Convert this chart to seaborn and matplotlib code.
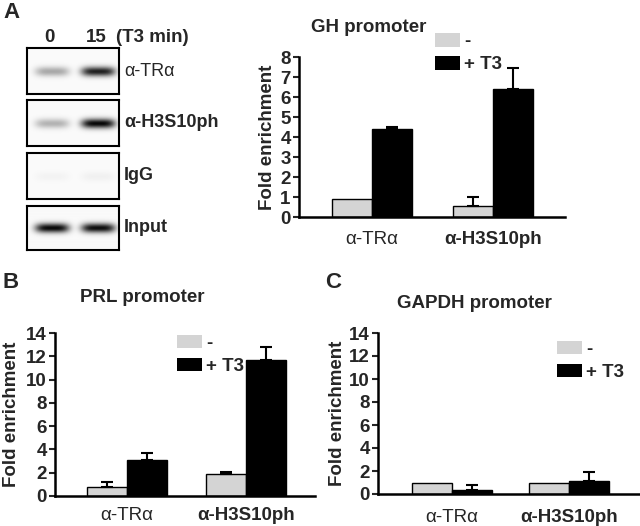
import numpy as np
import pandas as pd
import matplotlib
matplotlib.use("Agg")
import matplotlib.pyplot as plt
import seaborn as sns

sns.set_theme(style="white")
plt.rcParams['font.family'] = ['Liberation Sans', 'DejaVu Sans']

# ---- data ----
antibodies = ["α-TRα", "α-H3S10ph"]
treatments = ["-", "+ T3"]

gh_minus = [0.9, 0.55]
gh_plus = [4.4, 6.4]
gh_minus_err = [0.0, 0.45]
gh_plus_err = [0.12, 1.05]

prl_minus = [0.75, 1.9]
prl_plus = [3.1, 11.7]
prl_minus_err = [0.45, 0.2]
prl_plus_err = [0.6, 1.1]

gapdh_minus = [1.0, 1.0]
gapdh_plus = [0.35, 1.1]
gapdh_minus_err = [0.0, 0.0]
gapdh_plus_err = [0.45, 0.85]

blot_rows = ["α-TRα", "α-H3S10ph", "IgG", "Input"]
blot_lanes = ["0", "15"]
band_intensity = [[0.32, 0.85], [0.28, 0.95], [0.03, 0.04], [0.95, 0.93]]

colors = {"-": "#d4d4d4", "+ T3": "#000000"}

FS = 13.5

W, H = 640, 526
fig = plt.figure(figsize=(6.4, 5.26), dpi=100)


def fx(px):
    return px / W


def fy(py):
    return 1 - py / H


def make_df(minus, plus):
    rows = []
    for i, ab in enumerate(antibodies):
        rows.append({"antibody": ab, "treatment": "-", "value": minus[i]})
        rows.append({"antibody": ab, "treatment": "+ T3", "value": plus[i]})
    return pd.DataFrame(rows)


def bar_panel(rect, minus, plus, merr, perr, ymax, ystep, xlim, width, leg_xy, tickpad, ylab_x):
    ax = fig.add_axes(rect)
    df = make_df(minus, plus)
    sns.barplot(data=df, x="antibody", y="value", hue="treatment",
                hue_order=treatments, order=antibodies, palette=colors,
                width=width, errorbar=None, edgecolor="black", linewidth=1.0,
                saturation=1, ax=ax)
    for cont, errs in zip(ax.containers, [merr, perr]):
        for bar, e in zip(cont, errs):
            if e > 0:
                cx = bar.get_x() + bar.get_width() / 2
                ax.errorbar([cx], [bar.get_height()], yerr=[[0], [e]],
                            fmt="none", ecolor="black", elinewidth=1.5,
                            capsize=4.5, capthick=1.5, zorder=1)
    ax.set_ylim(0, ymax)
    ax.set_xlim(*xlim)
    ticks = np.arange(0, ymax + 0.01, ystep)
    ax.set_yticks(ticks)
    ax.set_yticklabels([str(int(v)) for v in ticks], fontsize=FS, fontweight="bold")
    ax.tick_params(axis="y", length=4, width=1.5, direction="out", pad=2, left=True)
    ax.tick_params(axis="x", length=0, pad=tickpad)
    ax.set_xticks([0, 1])
    ax.set_xticklabels(antibodies, fontsize=FS)
    ax.get_xticklabels()[0].set_fontweight("normal")
    ax.get_xticklabels()[1].set_fontweight("bold")
    ax.set_xlabel("")
    ax.set_ylabel("Fold enrichment", fontsize=FS, fontweight="bold")
    ax.yaxis.set_label_coords(ylab_x, 0.5)
    sns.despine(ax=ax)
    for s in ["left", "bottom"]:
        ax.spines[s].set_linewidth(1.8)
        ax.spines[s].set_color("black")
    handles, labels = ax.get_legend_handles_labels()
    for h in handles:
        h.set_edgecolor("none")
    ax.legend(handles, labels, loc="upper left", bbox_to_anchor=leg_xy,
              frameon=False, borderpad=0, borderaxespad=0,
              handlelength=1.35, handleheight=0.75, handletextpad=0.2,
              labelspacing=0.3, prop={"weight": "bold", "size": FS})
    return ax


# Panel A bar chart
bar_panel([fx(299), fy(217), fx(565 - 299), (217 - 57) / H],
          gh_minus, gh_plus, gh_minus_err, gh_plus_err, 8, 1,
          (-0.603, 1.595), 0.66, (0.511, 1.15), 10, -0.085)
# Panel B
bar_panel([fx(55), fy(496), fx(315 - 55), (496 - 333) / H],
          prl_minus, prl_plus, prl_minus_err, prl_plus_err, 14, 2,
          (-0.605, 1.58), 0.67, (0.469, 0.99), 8, -0.133)
# Panel C
bar_panel([fx(378), fy(494), fx(640 - 378), (494 - 333) / H],
          gapdh_minus, gapdh_plus, gapdh_minus_err, gapdh_plus_err, 14, 2,
          (-0.632, 1.607), 0.68, (0.683, 0.952), 11, -0.124)

# titles and panel letters
fig.text(fx(311), fy(27), "GH promoter", fontsize=FS, fontweight="bold", va="center", ha="left")
fig.text(fx(80), fy(298), "PRL promoter", fontsize=FS, fontweight="bold", va="center", ha="left")
fig.text(fx(397), fy(303), "GAPDH promoter", fontsize=FS, fontweight="bold", va="center", ha="left")
fig.text(fx(3), fy(12), "A", fontsize=16, fontweight="bold", va="center", ha="left")
fig.text(fx(3), fy(283), "B", fontsize=16, fontweight="bold", va="center", ha="left")
fig.text(fx(325), fy(283), "C", fontsize=16, fontweight="bold", va="center", ha="left")

# blots
boxes = [(48, 94), (100, 146), (153, 199), (206, 250)]
lane_centers = [0.27, 0.77]
label_weights = ["normal", "bold", "bold", "bold"]
ny, nx = 46, 92
yy, xx = np.mgrid[0:ny, 0:nx]
for (top, bot), name, intens, wt in zip(boxes, blot_rows, band_intensity, label_weights):
    bax = fig.add_axes([fx(27), fy(bot), fx(119 - 27), (bot - top) / H])
    img = np.zeros((ny, nx))
    for lc, I in zip(lane_centers, intens):
        cx = lc * nx
        cy = ny / 2
        img += I * np.exp(-((xx - cx) / 17.0) ** 4) * np.exp(-((yy - cy) / 4.8) ** 2)
    img += 0.02
    bax.imshow(img, cmap="gray_r", vmin=0, vmax=1, extent=[0, 1, 0, 1], aspect="auto",
               interpolation="bilinear")
    bax.set_xticks([])
    bax.set_yticks([])
    for s in bax.spines.values():
        s.set_visible(True)
        s.set_linewidth(1.5)
        s.set_color("black")
    fig.text(fx(124), fy((top + bot) / 2), name, fontsize=13, fontweight=wt,
             va="center", ha="left")

fig.text(fx(49), fy(37), blot_lanes[0], fontsize=FS, fontweight="bold", ha="center", va="center")
fig.text(fx(96), fy(37), blot_lanes[1], fontsize=FS, fontweight="bold", ha="center", va="center")
fig.text(fx(116), fy(37), "(T3 min)", fontsize=FS, fontweight="bold", ha="left", va="center")

fig.savefig("out.png", dpi=100)
